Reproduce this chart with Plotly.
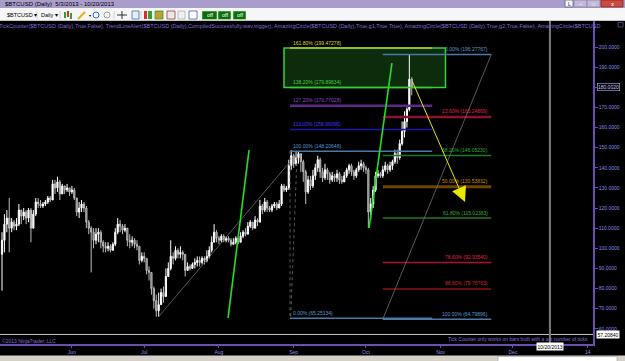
import plotly.graph_objects as go
import pandas as pd

# ---------------- data ----------------
start_date = "2013-05-03"
first_open = 97
closes = [104, 112, 115, 110, 113, 111, 112, 119, 116, 118,
          115, 119, 110, 117, 123, 122, 121, 122, 123, 125,
          124, 132, 130, 133, 127, 131, 129, 130, 128, 129,
          125, 118, 120, 122, 120, 113, 110, 108, 104, 107,
          108, 103, 101, 100, 101, 99, 102, 108, 112, 111,
          109, 110, 104, 103, 104, 102, 101, 94, 96, 95,
          89, 88, 80, 74, 69, 72, 78, 76, 86, 90,
          96, 95, 99, 97, 98, 97, 89, 91, 90, 92,
          93, 94, 93, 95, 94, 96, 99, 103, 108, 105,
          104, 106, 104, 105, 104, 102, 103, 105, 103, 106,
          108, 107, 111, 113, 110, 114, 113, 121, 119, 123,
          120, 119, 121, 122, 120, 122, 131, 129, 130, 141,
          146, 142, 145, 147, 143, 138, 128, 134, 131, 136,
          140, 144, 138, 135, 139, 137, 134, 136, 135, 137,
          134, 133, 136, 139, 141, 138, 136, 139, 141, 142,
          140, 139, 118, 122, 129, 136, 137, 136, 139, 141,
          139, 141, 143, 147, 145, 152, 158, 163, 169, 184,
          180.002]
highs = [108, 117, 119, 125, 115, 114, 115, 122, 119, 120,
         119, 120, 120, 119, 125, 125, 124, 123, 124, 126,
         126, 134, 134, 135.6, 134, 132, 131, 132, 130, 131,
         130, 125, 123, 124, 123, 121, 114, 111, 110, 110,
         110, 109, 104, 103, 103, 102, 103, 110, 115, 114,
         112, 112, 110, 107, 106, 105, 104, 101, 98, 98,
         95, 91, 88, 81, 77, 78, 80, 81, 90, 93,
         104, 98, 101, 100, 101, 99, 97, 93, 92, 93,
         95, 96, 96, 96, 96, 99, 101, 106, 112, 109,
         106, 107, 107, 106, 106, 105, 105, 106, 105, 108,
         109, 110, 113, 114, 113, 116, 115, 124, 122, 125,
         124, 121, 122, 123, 123, 124, 132, 132, 131, 144,
         148.8, 147, 148, 148.2, 147, 144, 139, 136, 136, 139,
         142, 146, 145, 140, 142, 140, 138, 138, 137, 139,
         138, 136, 138, 140, 142, 142, 139, 140, 143, 144,
         143, 141, 140, 125, 131, 138, 139, 138, 141, 143,
         142, 143, 144, 149, 149, 154, 163, 168, 170, 196.3,
         185]
lows = [79, 98, 108, 98, 108, 109, 109, 111, 112, 114,
        112, 113, 103, 110, 116, 120, 120, 120, 121, 122,
        123, 124, 127, 128, 124, 127, 127, 128, 126, 127,
        124, 116, 115, 118, 118, 110, 107, 88, 100, 102,
        103, 100, 98, 98, 98.5, 98, 99, 101, 107, 108,
        107, 108, 101, 100, 101, 100, 99, 92, 93, 93,
        87, 84, 77, 70, 66, 66, 72, 73, 76, 86,
        89, 92, 94, 95, 95, 94, 86, 89, 89, 90,
        90, 91, 91, 92, 92, 93, 95, 98, 103, 103,
        102, 103, 103, 103, 103, 101, 102, 102, 102, 103,
        105, 106, 107, 110, 109, 110, 111, 113, 117, 118,
        118, 118, 118, 120, 119, 120, 121, 128, 128, 129,
        139, 140, 141, 142, 138, 133, 122, 127, 129, 130,
        134, 138, 135, 133, 134, 134, 132, 133, 133, 133,
        132, 132, 133, 135, 137, 136, 134, 135, 138, 139,
        138, 137, 110, 114, 120, 128, 135, 135, 135, 138,
        137, 138, 139, 142, 142, 144, 151, 155, 160, 168,
        176]

# Fibonacci extension (left tool)
ext_levels = [161.8, 138.2, 127.2, 113.0, 100.0, 0.0]
ext_prices = [199.47278, 179.89634, 170.77028, 158.99066, 148.20648, 65.25134]
ext_x = ["2013-08-30 12:00", "2013-10-28 12:00"]
zone_x = ["2013-08-28", "2013-11-03"]

# Fibonacci retracement (right tool)
ret_levels = [0.0, 23.6, 38.2, 50.0, 61.8, 78.6, 88.6, 100.0]
ret_prices = [196.27767, 165.24869, 146.05230, 130.53832, 115.02383, 92.93540, 79.78763, 64.79896]
ret_x = ["2013-10-08", "2013-11-22"]

# drawing anchors (date, price)
trend_x, trend_y = ["2013-07-07", "2013-08-30 12:00"], [66.0, 143.0]
dot1_x, dot1_y = ["2013-08-30 12:00", "2013-08-30 12:00"], [148.2, 65.3]
dot2_x, dot2_y = ["2013-09-02 12:00", "2013-08-30 18:00"], [148.2, 65.3]
green1_x, green1_y = ["2013-08-04 19:00", "2013-08-13 12:00"], [65.4, 148.8]
green2_x, green2_y = ["2013-10-02 07:00", "2013-10-11 19:00"], [110.1, 192.0]
diag_x, diag_y = ["2013-10-08", "2013-11-22"], [64.79896, 196.27767]
arrow_tail = ("2013-10-20", 183.6)
arrow_head = ("2013-11-11 03:00", 123.0)
cross_x, cross_y = "2013-12-16 08:00", 57.2084
cross_date_label = "10/20/2013"
last_price = 180.002

x_range = ["2013-05-02 04:00", "2014-01-03 05:00"]
y_range = [52.46, 212.92]
month_ticks = ["2013-06-01", "2013-07-01", "2013-08-01", "2013-09-01",
               "2013-10-01", "2013-11-01", "2013-12-01", "2014-01-01"]
month_labels = ["Jun", "Jul", "Aug", "Sep", "Oct", "Nov", "Dec", "14"]
price_ticks = [60, 70, 80, 90, 100, 110, 120, 130, 140, 150, 160, 170, 180, 190, 200]

dates = pd.date_range(start_date, periods=len(closes), freq="D")
opens = [first_open] + closes[:-1]

# ---------------- styles ----------------
FONT = "Liberation Sans, Arial, sans-serif"
PURPLE = "#6a4fb0"
LABEL = "#8b8be8"
ext_line_colors = ["#b4c820", "#3ac83a", "#5c2a8a", "#1a1ab0", "#4a7aa8", "#4a7aa8"]
ext_text_colors = ["#d8d830", "#40d040", "#9048cc", "#3a3aff", "#5a9ad0", "#5a9ad0"]
ext_widths = [1.5, 1.5, 2.5, 1.5, 1.5, 1.5]
ret_line_colors = ["#4a7aa8", "#8c1030", "#1f7a1f", "#6e4400", "#1f7a1f", "#b01030", "#8a1515", "#4a7aa8"]
ret_text_colors = ["#5a9ad0", "#e0204a", "#30b030", "#d08a00", "#30b030", "#e0204a", "#d02828", "#5a9ad0"]
ret_widths = [1.5, 2.5, 1.5, 3, 1.5, 1.5, 1.5, 1.5]

W, H = 625, 361
PL, PR, PT, PB = 0, 593, 21, 344


def px(x):
    return (x - PL) / (PR - PL)


def py(y):
    return (PB - y) / (PB - PT)


fig = go.Figure()
fig.add_trace(go.Candlestick(
    x=dates, open=opens, high=highs, low=lows, close=closes,
    increasing=dict(line=dict(color="#ffffff", width=1), fillcolor="#ffffff"),
    decreasing=dict(line=dict(color="#bdbdbd", width=1), fillcolor="#5c5c5c"),
    whiskerwidth=0, showlegend=False, hoverinfo="skip"))

shapes = []
annos = []

# zone rectangle
shapes.append(dict(type="rect", xref="x", yref="y", x0=zone_x[0], x1=zone_x[1],
                   y0=ext_prices[1], y1=ext_prices[0], layer="below",
                   fillcolor="#0c2c0c", line=dict(color="#3ad03a", width=1.5)))

# fib extension lines
for lvl, pr, lc, tc, w in zip(ext_levels, ext_prices, ext_line_colors, ext_text_colors, ext_widths):
    shapes.append(dict(type="line", xref="x", yref="y", x0=ext_x[0], x1=ext_x[1],
                       y0=pr, y1=pr, line=dict(color=lc, width=w)))
    annos.append(dict(x=ext_x[0], y=pr, xref="x", yref="y", xanchor="left", yanchor="bottom",
                      xshift=1, yshift=0.5, showarrow=False, text=f"{lvl:.2f}% ({pr:.5f})",
                      font=dict(family=FONT, size=5, color=tc)))

# fib retracement lines
for lvl, pr, lc, tc, w in zip(ret_levels, ret_prices, ret_line_colors, ret_text_colors, ret_widths):
    shapes.append(dict(type="line", xref="x", yref="y", x0=ret_x[0], x1=ret_x[1],
                       y0=pr, y1=pr, line=dict(color=lc, width=w)))
    annos.append(dict(x=ret_x[1], y=pr, xref="x", yref="y", xanchor="right", yanchor="bottom",
                      xshift=-1, yshift=0.5, showarrow=False, text=f"{lvl:.2f}% ({pr:.5f})",
                      font=dict(family=FONT, size=5, color=tc)))

# drawings
def seg(xs, ys, color, width, dash="solid"):
    shapes.append(dict(type="line", xref="x", yref="y", x0=xs[0], x1=xs[1], y0=ys[0], y1=ys[1],
                       line=dict(color=color, width=width, dash=dash)))

seg(trend_x, trend_y, "#6e6e6e", 0.8)
seg(dot1_x, dot1_y, "#6e6e6e", 0.8, "dot")
seg(dot2_x, dot2_y, "#6e6e6e", 0.8, "dot")
seg(diag_x, diag_y, "#6e6e6e", 0.8)
seg(green1_x, green1_y, "#22e022", 1.6)
seg(green2_x, green2_y, "#22e022", 1.6)

annos.append(dict(x=arrow_head[0], y=arrow_head[1], xref="x", yref="y",
                  ax=arrow_tail[0], ay=arrow_tail[1], axref="x", ayref="y",
                  showarrow=True, arrowhead=2, arrowsize=3, arrowwidth=1,
                  arrowcolor="#e8e800", text=""))

# crosshair
shapes.append(dict(type="line", xref="paper", yref="y", x0=0, x1=1, y0=cross_y, y1=cross_y,
                   line=dict(color="#c8c8c8", width=1)))
shapes.append(dict(type="line", xref="x", yref="paper", x0=cross_x, x1=cross_x, y0=0, y1=1,
                   line=dict(color="#7a7a7a", width=2)))
annos.append(dict(x=cross_x, y=py(351), xref="x", yref="paper", showarrow=False,
                  text=cross_date_label, bgcolor="#ffffff", borderpad=0.5,
                  font=dict(family=FONT, size=5, color="#000000")))
annos.append(dict(x=1, y=cross_y, xref="paper", yref="y", xanchor="left", xshift=3,
                  showarrow=False, text=f"{cross_y:.5f}", bgcolor="#ffffff",
                  borderpad=0.5, font=dict(family=FONT, size=5, color="#000000")))
annos.append(dict(x=1, y=last_price, xref="paper", yref="y", xanchor="left", xshift=4,
                  showarrow=False, text=f"{last_price:.4f}", bgcolor="#000000",
                  bordercolor="#b0b0ff", borderwidth=0.6, borderpad=0.3,
                  font=dict(family=FONT, size=5, color="#c8c8ff")))

# ---------------- chrome ----------------
def prect(x0, y0, x1, y1, fill, line=None, lw=0.8):
    shapes.append(dict(type="rect", xref="paper", yref="paper", x0=px(x0), x1=px(x1),
                       y0=py(y1), y1=py(y0), fillcolor=fill,
                       line=dict(color=line or fill, width=lw if line else 0), layer="above"))


def ptext(x, y, t, size=5, color="#000000", anchor="left", bg=None):
    d = dict(x=px(x), y=py(y), xref="paper", yref="paper", xanchor=anchor, yanchor="middle",
             showarrow=False, text=t, font=dict(family=FONT, size=size, color=color))
    if bg:
        d["bgcolor"] = bg
    annos.append(d)


# title bar
prect(0, 0, 625, 8, "#a99dcb")
ptext(3, 4, "$BTCUSD (Daily)  5/3/2013 - 10/20/2013", 6)
prect(565, 0, 573, 7, "#f4f4f4", "#60608a")
prect(574, 0, 587, 7, "#c3badb", "#8a80aa")
prect(587, 0, 600, 7, "#c3badb", "#8a80aa")
prect(601, 0, 623, 7, "#cc4a3e", "#8a2a20")
ptext(569, 3.5, "L", 5, "#202060", "center")
ptext(580.5, 3.5, "–", 6, "#ffffff", "center")
ptext(593.5, 3.5, "□", 5, "#ffffff", "center")
ptext(612, 3.5, "x", 6, "#ffffff", "center")

# toolbar
prect(0, 8, 625, 21, "#f6f6f6")
shapes.append(dict(type="line", xref="paper", yref="paper", x0=0, x1=px(625), y0=py(20.5), y1=py(20.5),
                   line=dict(color="#b0b0b0", width=0.7)))
ptext(5, 15, "$BTCUSD ▾", 5.5)
ptext(39, 15, "Daily ▾", 5.5)
for sx in [37, 60, 114, 141]:
    shapes.append(dict(type="line", xref="paper", yref="paper", x0=px(sx), x1=px(sx), y0=py(11), y1=py(19),
                       line=dict(color="#c0c0c0", width=0.7)))
prect(64, 12, 66, 18, "#30a030")
prect(67, 11, 69, 17, "#d03030")
prect(70, 13, 72, 19, "#30a030")
shapes.append(dict(type="line", xref="paper", yref="paper", x0=px(78), x1=px(85), y0=py(19), y1=py(12),
                   line=dict(color="#e0b020", width=2)))
ptext(87, 15, "▾", 4)
shapes.append(dict(type="circle", xref="paper", yref="paper", x0=px(93), x1=px(99), y0=py(18), y1=py(12),
                   line=dict(color="#3070c0", width=1)))
shapes.append(dict(type="circle", xref="paper", yref="paper", x0=px(104), x1=px(110), y0=py(18), y1=py(12),
                   line=dict(color="#a0a0a0", width=1)))
shapes.append(dict(type="line", xref="paper", yref="paper", x0=px(117), x1=px(127), y0=py(15), y1=py(15),
                   line=dict(color="#303030", width=1)))
shapes.append(dict(type="line", xref="paper", yref="paper", x0=px(122), x1=px(122), y0=py(11), y1=py(19),
                   line=dict(color="#303030", width=1)))
prect(132, 11, 139, 19, "#e8eef8", "#4070b0")
prect(144, 11, 147, 19, "#d03030")
prect(148, 11, 152, 19, "#30a030")
prect(155, 11, 163, 19, "#c0a030", "#30a030")
prect(167, 11, 175, 19, "#e8e8e8", "#a04040")
prect(178, 11, 185, 19, "#f0f0f0", "#b0b0b0")
prect(189, 11, 197, 19, "#ffffff", "#4060b0")
for bx0, bx1 in [(202, 217), (218, 231), (233, 246)]:
    prect(bx0, 11, bx1, 19.5, "#0a700a", "#d0e8d0", 0.6)
    ptext((bx0 + bx1) / 2, 15.3, "off", 5.5, "#ffffff", "center")

# indicator list
ptext(-3, 26.5, "TickCounter($BTCUSD (Daily),True,False), TrendLineAlert($BTCUSD (Daily),CompiledSuccessfully.wav,trigger), "
      "AmazingCircle($BTCUSD (Daily),True,g1,True,True), AmazingCircle($BTCUSD (Daily),True,g2,True,False), "
      "AmazingCircle($BTCUSD", 5.5, "#8068d8")
prect(618, 22.5, 623, 27, "#000000", "#8070c0", 0.6)

# bottom texts
ptext(0, 341, "©2013 NinjaTrader, LLC", 5, "#7f6fd8")
ptext(590, 339, "Tick Counter only works on bars built with a set number of ticks", 5, "#7f6fd8", "right")

# bottom status strip
prect(0, 355.5, 625, 361, "#d4d0c8")
prect(498, 356.5, 617, 362, "#ffffff", "#a0a0a0", 0.6)

fig.update_layout(
    width=W, height=H,
    margin=dict(l=PL, r=W - PR, t=PT, b=H - PB),
    paper_bgcolor="#000000", plot_bgcolor="#000000",
    shapes=shapes, annotations=annos, showlegend=False,
    xaxis=dict(type="date", range=x_range, tickvals=month_ticks, ticktext=month_labels,
               ticks="outside", ticklen=2, tickcolor=PURPLE, showline=True, linecolor=PURPLE,
               linewidth=1.5, showgrid=False, zeroline=False, rangeslider=dict(visible=False),
               tickfont=dict(family=FONT, size=5, color=LABEL)),
    yaxis=dict(range=y_range, side="right", tickvals=price_ticks,
               ticktext=[f"{v:.4f}" for v in price_ticks], ticks="outside", ticklen=3,
               tickcolor=PURPLE, showline=True, linecolor=PURPLE, linewidth=1.5,
               showgrid=False, zeroline=False,
               tickfont=dict(family=FONT, size=5, color=LABEL)),
)

fig.write_html("out.html")
